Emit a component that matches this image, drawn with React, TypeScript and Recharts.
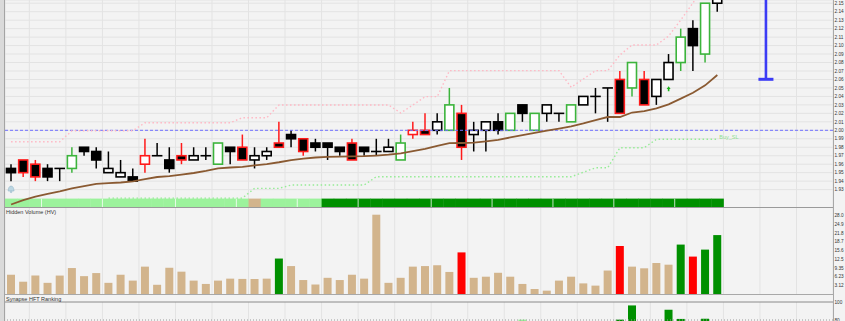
import React from "react";
import {
  Bar,
  CartesianGrid,
  Cell,
  ComposedChart,
  Line,
  ReferenceLine,
  XAxis,
  YAxis,
} from "recharts";

// 59 sessions + empty slots to the right edge
const SLOTS = 68;

const OPEN = [
  1.955, 1.965, 1.96, 1.955, 1.955, 1.955, 1.98, 1.975, 1.95, 1.945,
  1.945, 1.96, 1.97, 1.965, 1.97, 1.965, 1.97, 1.96, 1.98, 1.98,
  1.965, 1.97, 1.985, 1.995, 1.99, 1.985, 1.985, 1.98, 1.985, 1.98,
  1.975, 1.975, 1.965, 1.995, 2.0, 2.0, 2.0, 2.02, 1.995, 2.0,
  2.01, 2.0, 2.03, 2.0, 2.02, 2.02, 2.01, 2.03, 2.04, 2.05,
  2.06, 2.05, 2.06, 2.04, 2.06, 2.08, 2.12, 2.09, 2.15,
];
const HIGH = [
  1.96, 1.965, 1.965, 1.96, 1.955, 1.98, 1.98, 1.98, 1.975, 1.965,
  1.955, 1.99, 1.985, 1.98, 1.985, 1.98, 1.98, 1.985, 1.98, 1.995,
  1.98, 1.98, 2.01, 2.0, 1.99, 1.99, 1.985, 1.98, 1.99, 1.98,
  1.99, 1.99, 1.995, 2.01, 2.02, 2.02, 2.05, 2.03, 2.01, 2.01,
  2.02, 2.02, 2.03, 2.02, 2.03, 2.02, 2.03, 2.04, 2.05, 2.05,
  2.07, 2.08, 2.07, 2.06, 2.09, 2.12, 2.13, 2.15, 2.175,
];
const LOW = [
  1.94, 1.945, 1.94, 1.94, 1.94, 1.95, 1.97, 1.955, 1.95, 1.945,
  1.94, 1.95, 1.97, 1.95, 1.96, 1.965, 1.965, 1.96, 1.96, 1.965,
  1.955, 1.965, 1.98, 1.98, 1.97, 1.975, 1.965, 1.97, 1.965, 1.97,
  1.97, 1.975, 1.965, 1.99, 1.995, 1.995, 2.0, 1.965, 1.975, 1.975,
  1.995, 2.0, 2.01, 2.0, 2.01, 2.01, 2.01, 2.03, 2.02, 2.01,
  2.02, 2.04, 2.03, 2.03, 2.06, 2.07, 2.07, 2.08, 2.14,
];
const CLOSE = [
  1.95, 1.95, 1.945, 1.945, 1.955, 1.97, 1.975, 1.965, 1.955, 1.95,
  1.94, 1.97, 1.97, 1.955, 1.965, 1.97, 1.97, 1.985, 1.975, 1.965,
  1.97, 1.975, 1.98, 1.99, 1.975, 1.98, 1.98, 1.975, 1.965, 1.975,
  1.975, 1.98, 1.985, 2.0, 1.995, 2.01, 2.03, 1.98, 2.0, 2.01,
  2.0, 2.02, 2.02, 2.02, 2.03, 2.02, 2.03, 2.04, 2.04, 2.05,
  2.02, 2.08, 2.03, 2.06, 2.08, 2.11, 2.1, 2.15, 2.165,
];
// candle outline: k = plain, r = red signal, g = green signal
const EDGE = [
  "k", "r", "r", "k", "k", "g", "k", "k", "k", "k",
  "k", "r", "k", "k", "r", "k", "k", "g", "k", "r",
  "k", "k", "r", "k", "r", "k", "k", "k", "r", "k",
  "k", "k", "g", "r", "r", "k", "g", "r", "k", "k",
  "k", "g", "k", "g", "k", "k", "g", "k", "k", "k",
  "r", "g", "r", "k", "k", "g", "k", "g", "k",
];
const MA = [
  1.9124, 1.9177, 1.9218, 1.9251, 1.928, 1.9314, 1.9342, 1.9368, 1.9377, 1.9384,
  1.9396, 1.9424, 1.9449, 1.9458, 1.9478, 1.9496, 1.9521, 1.955, 1.9561, 1.9569,
  1.9586, 1.9602, 1.9623, 1.9649, 1.9665, 1.9679, 1.9686, 1.9689, 1.9692, 1.9695,
  1.9702, 1.9712, 1.9727, 1.9753, 1.978, 1.9817, 1.9848, 1.985, 1.9855, 1.987,
  1.9888, 1.9916, 1.9942, 1.9969, 1.9996, 2.002, 2.0046, 2.0081, 2.012, 2.0157,
  2.0157, 2.021, 2.0226, 2.026, 2.0306, 2.0374, 2.0443, 2.0531, 2.0653,
];
const SELL_SL = [
  1.9865, 1.9865, 1.9865, 1.9865, 1.9865, 1.9995, 1.9995, 1.9995, 1.9995, 1.9995,
  1.9995, 2.009, 2.009, 2.009, 2.009, 2.009, 2.009, 2.009, 2.009, 2.0149,
  2.0149, 2.0149, 2.0299, 2.0299, 2.0299, 2.0299, 2.0299, 2.0299, 2.0299, 2.0299,
  2.0299, 2.0299, 2.0204, 2.0299, 2.0397, 2.0397, 2.0704, 2.0704, 2.0704, 2.0704,
  2.0704, 2.0704, 2.0704, 2.0704, 2.0704, 2.0704, 2.0508, 2.0606, 2.0704, 2.0704,
  2.0889, 2.1007, 2.1007, 2.1007, 2.1113, 2.1302, 2.1503, 2.17, 2.19,
];
const BUY_SL = [
  null, null, null, null, null, null, null, null, 1.92, 1.92,
  1.92, 1.92, 1.92, 1.92, 1.92, 1.92, 1.92, 1.92, 1.92, 1.92,
  1.9315, 1.9315, 1.9315, 1.9354, 1.9354, 1.9354, 1.9354, 1.9354, 1.9354, 1.9354,
  1.9452, 1.9452, 1.9452, 1.9452, 1.9452, 1.9452, 1.9452, 1.9452, 1.9452, 1.9452,
  1.9452, 1.9452, 1.9452, 1.9452, 1.9452, 1.9452, 1.9452, 1.9505, 1.9558, 1.9558,
  1.9795, 1.9795, 1.9795, 1.9894, 1.9894, 1.9894, 1.9894, 1.9894, 1.9894,
];
// trend strip under the candles: l = light green, t = tan, d = dark green
const STRIP = [
  "l", "l", "l", "l", "l", "l", "l", "l", "l", "l",
  "l", "l", "l", "l", "l", "l", "l", "l", "l", "l",
  "t", "l", "l", "l", "l", "l", "d", "d", "d", "d",
  "d", "d", "d", "d", "d", "d", "d", "d", "d", "d",
  "d", "d", "d", "d", "d", "d", "d", "d", "d", "d",
  "d", "d", "d", "d", "d", "d", "d", "d", "d",
];
const WEEK_STARTS = [3, 8, 14, 19, 24, 29, 35, 40, 45, 50, 55];

const VOLUME = [
  6.9, 4.4, 6.6, 4.0, 6.6, 9.3, 6.4, 7.5, 4.0, 6.9,
  4.8, 9.8, 3.3, 9.4, 8.0, 4.8, 3.6, 4.8, 5.5, 5.4,
  5.4, 5.5, 12.7, 10.0, 5.0, 3.4, 5.8, 5.0, 6.9, 5.5,
  28.4, 4.0, 5.8, 9.8, 10.0, 10.3, 7.9, 14.9, 5.8, 6.2,
  7.6, 6.2, 3.6, 1.8, 1.2, 4.8, 6.2, 3.8, 3.0, 8.4,
  17.2, 9.8, 9.2, 11.1, 10.5, 17.7, 13.4, 15.9, 21.1,
];
const VOL_COLOR = [
  "t", "t", "t", "t", "t", "t", "t", "t", "t", "t",
  "t", "t", "t", "t", "t", "t", "t", "t", "t", "t",
  "t", "t", "g", "t", "t", "t", "t", "t", "t", "t",
  "t", "t", "t", "t", "t", "t", "t", "r", "t", "t",
  "t", "t", "t", "t", "t", "t", "t", "t", "t", "t",
  "r", "t", "t", "t", "t", "g", "r", "g", "g",
];
const VOL_TICKS = [3.12, 6.23, 9.35, 12.47, 15.58, 18.7, 21.81, 24.93, 28.04];
const VOL_TICK_LABELS = ["3.12", "6.23", "9.35", "12.5", "15.6", "18.7", "21.8", "24.9", "28.0"];

const HFT_INDEX = [42, 50, 51, 54, 55, 57];
const HFT_VALUE = [80.4, 80.4, 96.2, 91.4, 81.2, 81.4];
const HFT_COLOR = ["l", "d", "d", "d", "d", "d"];
const HFT_TICKS = [80, 100];

const PRICE_TICKS = [
  1.93, 1.94, 1.95, 1.96, 1.97, 1.98, 1.99, 2.0, 2.01, 2.02, 2.03, 2.04,
  2.05, 2.06, 2.07, 2.08, 2.09, 2.1, 2.11, 2.12, 2.13, 2.14, 2.15,
];

const STOP_INDEX = 62;
const STOP_LEVEL = 2.0602;
const ARROW_INDEX = 54;
const ARROW_PRICE = 2.0488;
const BELL_INDEX = 0;
const BELL_PRICE = 1.9307;

const PRICE_MIN = 1.9083;
const PRICE_MAX = 2.1538;
const STRIP_LOW = 1.9092;
const STRIP_HIGH = 1.9194;
const VOL_MAX = 30.8;

const EDGE_COLORS: Record<string, string> = { k: "#000000", r: "#ff1a1a", g: "#3cb43c" };
const STRIP_COLORS: Record<string, string> = { l: "#9cf29c", t: "#d2b48c", d: "#009000" };
const VOL_COLORS: Record<string, string> = { t: "#d2b48c", g: "#009000", r: "#ff0000" };
const HFT_COLORS: Record<string, string> = { l: "#98ee98", d: "#009000" };

const GRID_X = Array.from({ length: SLOTS + 1 }, (_, k) => k - 0.5);
const FONT = "'Liberation Sans', Arial, sans-serif";

const rows = Array.from({ length: SLOTS }, (_, i) => {
  const has = i < CLOSE.length;
  const h = HFT_INDEX.indexOf(i);
  return {
    i,
    o: has ? OPEN[i] : null,
    h: has ? HIGH[i] : null,
    l: has ? LOW[i] : null,
    c: has ? CLOSE[i] : null,
    edge: has ? EDGE[i] : null,
    strip: has ? STRIP[i] : null,
    ma: has ? MA[i] : null,
    sell: has ? SELL_SL[i] : null,
    buy: has ? BUY_SL[i] : null,
    vol: has ? VOLUME[i] : null,
    volColor: has ? VOL_COLOR[i] : "t",
    hft: h >= 0 ? HFT_VALUE[h] : null,
    hftColor: h >= 0 ? HFT_COLOR[h] : "d",
    arrow: i === ARROW_INDEX ? ARROW_PRICE : null,
    bell: i === BELL_INDEX ? BELL_PRICE : null,
  };
});

const lastBuy = BUY_SL.length - 1;

const CandleShape = (props: any) => {
  const { x, y, width, height, payload } = props;
  if (!payload || payload.o == null) return null;
  const { o, h, l, c, edge } = payload;
  const k = h > l ? height / (h - l) : 0;
  const py = (v: number) => y + (h - v) * k;
  const cx = x + width / 2;
  const stroke = EDGE_COLORS[edge];
  const bw = 9;
  const top = py(Math.max(o, c));
  const bot = py(Math.min(o, c));
  return (
    <g>
      <line x1={cx} x2={cx} y1={y} y2={y + height} stroke={stroke} strokeWidth={1.5} />
      {o === c ? (
        <line x1={cx - bw / 2 - 0.8} x2={cx + bw / 2 + 0.8} y1={top} y2={top} stroke={stroke} strokeWidth={1.6} />
      ) : (
        <rect
          x={cx - bw / 2}
          y={top}
          width={bw}
          height={bot - top}
          fill={c < o ? "#000000" : "#ffffff"}
          stroke={stroke}
          strokeWidth={1.6}
        />
      )}
    </g>
  );
};

const StripShape = (props: any) => {
  const { x, y, width, height, payload } = props;
  if (!payload || payload.strip == null) return null;
  return (
    <g>
      <rect x={x} y={y} width={width + 0.6} height={height} fill={STRIP_COLORS[payload.strip]} />
      {WEEK_STARTS.includes(payload.i) && (
        <line x1={x} x2={x} y1={y} y2={y + height} stroke="#ffffff" strokeOpacity={0.75} />
      )}
    </g>
  );
};

const StopShape = (props: any) => {
  const { x, y, width, height } = props;
  if (height == null || isNaN(height)) return null;
  const cx = x + width / 2;
  const by = y + height;
  return (
    <g stroke="#3b3bf5">
      <line x1={cx} x2={cx} y1={y} y2={by} strokeWidth={2.6} />
      <line x1={cx - 7.5} x2={cx + 7.5} y1={by} y2={by} strokeWidth={3} />
    </g>
  );
};

const ArrowDot = (props: any) => {
  const { cx, cy, value } = props;
  if (value == null || cy == null || isNaN(cy)) return null;
  return (
    <path
      key={`a${cx}`}
      d={`M${cx},${cy - 2.6} L${cx + 2},${cy} L${cx + 0.8},${cy} L${cx + 0.8},${cy + 2.4} L${cx - 0.8},${cy + 2.4} L${cx - 0.8},${cy} L${cx - 2},${cy} Z`}
      fill="#1db31d"
    />
  );
};

const BellDot = (props: any) => {
  const { cx, cy, value } = props;
  if (value == null || cy == null || isNaN(cy)) return null;
  return (
    <g key={`b${cx}`} fill="#bcd6e2" stroke="#8fb2c4" strokeWidth={0.5}>
      <path d={`M${cx - 3},${cy + 2} Q${cx - 2.6},${cy - 3} ${cx},${cy - 3} Q${cx + 2.6},${cy - 3} ${cx + 3},${cy + 2} Z`} />
      <circle cx={cx} cy={cy + 2.8} r={0.9} />
    </g>
  );
};

const BuyLabel = (props: any) => {
  const { x, y, index } = props;
  if (index !== lastBuy) return null;
  return (
    <text x={x + 2} y={y - 0.5} fontSize={5.5} fill="#8fe08f" fontFamily={FONT}>
      Buy_SL
    </text>
  );
};

const tickStyle = { fontSize: 4.7, fill: "#333333", fontFamily: FONT };

export default function App() {
  const stripKey = (d: any) => (d.strip == null ? null : [STRIP_LOW, STRIP_HIGH]);
  const candleKey = (d: any) => (d.h == null ? null : [d.l, d.h]);
  const stopKey = (d: any) => (d.i === STOP_INDEX ? [STOP_LEVEL, 2.2] : null);

  return (
    <div
      style={{
        position: "absolute",
        left: 0,
        top: 0,
        width: 845,
        height: 321,
        overflow: "hidden",
        background: "#f3f3f3",
        fontFamily: FONT,
      }}
    >
      <div style={{ position: "absolute", left: 0, top: 0 }}>
        <ComposedChart
          width={845}
          height={208}
          data={rows}
          margin={{ top: 0, right: 0, left: 5, bottom: 0 }}
          barCategoryGap={0}
          barGap={0}
        >
          <XAxis xAxisId="c" dataKey="i" hide />
          <XAxis xAxisId="s" dataKey="i" hide />
          <XAxis xAxisId="m" dataKey="i" hide />
          <XAxis xAxisId="g" dataKey="i" type="number" domain={[-0.5, SLOTS - 0.5]} ticks={GRID_X} hide />
          <YAxis
            yAxisId="p"
            orientation="right"
            width={12}
            domain={[PRICE_MIN, PRICE_MAX]}
            allowDataOverflow
            ticks={PRICE_TICKS}
            interval={0}
            tickFormatter={(v: number) => v.toFixed(2)}
            tick={tickStyle}
            tickLine={false}
            axisLine={false}
            tickSize={1.5}
            tickMargin={0}
          />
          <CartesianGrid xAxisId="g" yAxisId="p" stroke="#e3e3e3" />
          <Bar xAxisId="s" yAxisId="p" dataKey={stripKey} shape={StripShape} isAnimationActive={false} />
          <ReferenceLine xAxisId="c" yAxisId="p" y={2.0} stroke="#7070ff" strokeDasharray="3 2" />
          <Line
            xAxisId="c"
            yAxisId="p"
            dataKey="sell"
            stroke="#ffb8c4"
            strokeWidth={1.4}
            strokeDasharray="1.5 2.5"
            dot={false}
            activeDot={false}
            isAnimationActive={false}
          />
          <Line
            xAxisId="c"
            yAxisId="p"
            dataKey="buy"
            stroke="#96ec96"
            strokeWidth={1.4}
            strokeDasharray="1.5 2.5"
            dot={false}
            activeDot={false}
            label={BuyLabel}
            isAnimationActive={false}
          />
          <Bar xAxisId="c" yAxisId="p" dataKey={candleKey} shape={CandleShape} isAnimationActive={false} />
          <Line
            xAxisId="c"
            yAxisId="p"
            dataKey="ma"
            stroke="#8a5a32"
            strokeWidth={1.8}
            dot={false}
            activeDot={false}
            isAnimationActive={false}
          />
          <Bar xAxisId="m" yAxisId="p" dataKey={stopKey} shape={StopShape} isAnimationActive={false} />
          <Line
            xAxisId="c"
            yAxisId="p"
            dataKey="arrow"
            stroke="none"
            dot={ArrowDot}
            activeDot={false}
            isAnimationActive={false}
          />
          <Line
            xAxisId="c"
            yAxisId="p"
            dataKey="bell"
            stroke="none"
            dot={BellDot}
            activeDot={false}
            isAnimationActive={false}
          />
        </ComposedChart>
      </div>

      <div style={{ position: "absolute", left: 0, top: 208 }}>
        <ComposedChart width={845} height={86} data={rows} margin={{ top: 0, right: 0, left: 5, bottom: 0 }}>
          <XAxis dataKey="i" hide />
          <XAxis xAxisId="g" dataKey="i" type="number" domain={[-0.5, SLOTS - 0.5]} ticks={GRID_X} hide />
          <YAxis
            orientation="right"
            width={12}
            domain={[0, VOL_MAX]}
            ticks={VOL_TICKS}
            interval={0}
            tickFormatter={(_v: number, idx: number) => VOL_TICK_LABELS[idx]}
            tick={tickStyle}
            tickLine={false}
            axisLine={false}
            tickSize={1.5}
            tickMargin={0}
          />
          <CartesianGrid xAxisId="g" horizontal={false} stroke="#e3e3e3" />
          <Bar dataKey="vol" barSize={8} isAnimationActive={false}>
            {rows.map((r) => (
              <Cell key={r.i} fill={VOL_COLORS[r.volColor]} />
            ))}
          </Bar>
        </ComposedChart>
      </div>

      <div style={{ position: "absolute", left: 0, top: 295 }}>
        <ComposedChart width={845} height={97} data={rows} margin={{ top: 7, right: 0, left: 5, bottom: 0 }}>
          <XAxis dataKey="i" hide />
          <XAxis xAxisId="g" dataKey="i" type="number" domain={[-0.5, SLOTS - 0.5]} ticks={GRID_X} hide />
          <YAxis
            orientation="right"
            width={12}
            domain={[0, 100]}
            ticks={HFT_TICKS}
            interval={0}
            tick={tickStyle}
            tickLine={false}
            axisLine={false}
            tickSize={1.5}
            tickMargin={0}
          />
          <CartesianGrid xAxisId="g" horizontal={false} stroke="#e3e3e3" />
          <ReferenceLine y={80} stroke="#9a9a9a" strokeDasharray="1 2" />
          <ReferenceLine y={100} stroke="#8a8a8a" />
          <Bar dataKey="hft" barSize={8} isAnimationActive={false}>
            {rows.map((r) => (
              <Cell key={r.i} fill={HFT_COLORS[r.hftColor]} />
            ))}
          </Bar>
        </ComposedChart>
      </div>

      {/* panel frame */}
      <div style={{ position: "absolute", left: 5, top: 207, width: 828, height: 1, background: "#9a9a9a" }} />
      <div style={{ position: "absolute", left: 5, top: 294, width: 828, height: 1, background: "#a8a8a8" }} />
      <div style={{ position: "absolute", left: 833, top: 0, width: 1, height: 321, background: "#a8a8a8" }} />
      <div style={{ position: "absolute", left: 0, top: 0, width: 4, height: 321, background: "#dadada" }} />
      <div style={{ position: "absolute", left: 4, top: 0, width: 1, height: 321, background: "#a4a4a4" }} />
      <div style={{ position: "absolute", left: 6, top: 208.5, fontSize: 5.5, lineHeight: "6px", color: "#333" }}>
        Hidden Volume (HV)
      </div>
      <div style={{ position: "absolute", left: 6, top: 295.5, fontSize: 5.5, lineHeight: "6px", color: "#333" }}>
        Synapse HFT Ranking
      </div>
    </div>
  );
}
